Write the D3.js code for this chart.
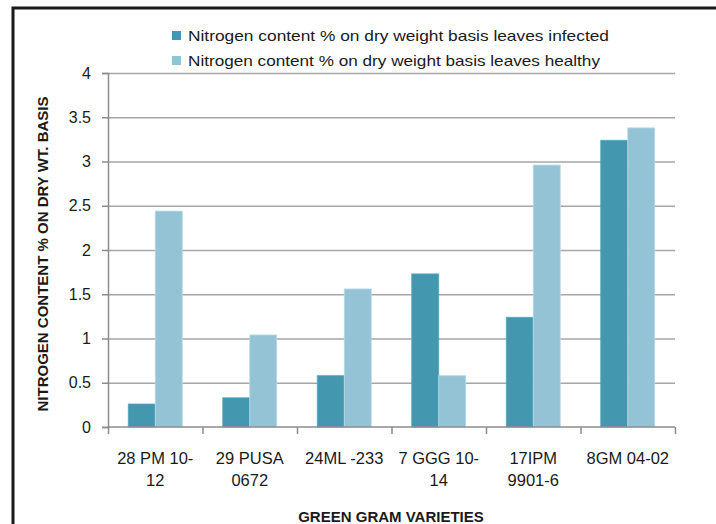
<!DOCTYPE html>
<html>
<head>
<meta charset="utf-8">
<script src="https://cdn.jsdelivr.net/npm/d3@7"></script>
<style>
  body { margin: 0; background: #fff; }
  text { font-family: "Liberation Sans", Arial, sans-serif; fill: #1a1a1a; }
</style>
</head>
<body>
<script>
// green gram varieties and nitrogen content
var categories = ["28 PM 10-12", "29 PUSA 0672", "24ML -233", "7 GGG 10-14", "17IPM 9901-6", "8GM 04-02"];
var tickLines = [["28 PM 10-", "12"], ["29 PUSA", "0672"], ["24ML -233"], ["7 GGG 10-", "14"], ["17IPM", "9901-6"], ["8GM 04-02"]];
var infected = [0.26, 0.33, 0.58, 1.73, 1.24, 3.24];
var healthy = [2.44, 1.04, 1.56, 0.58, 2.96, 3.38];
var seriesNames = [
  "Nitrogen content % on dry weight basis leaves infected",
  "Nitrogen content % on dry weight basis leaves healthy"
];
var yTicks = [0, 0.5, 1, 1.5, 2, 2.5, 3, 3.5, 4];

var w = 716;
var h = 524;
var colors = ["#4398b0", "#94c3d5"];

var svg = d3.select("body").append("svg")
  .attr("width", w)
  .attr("height", h);

// outer frame (only left and top are visible)
svg.append("rect")
  .attr("x", 13).attr("y", 8)
  .attr("width", 740).attr("height", 560)
  .attr("fill", "none")
  .attr("stroke", "#1a1a1a")
  .attr("stroke-width", 3);

var x0 = d3.scaleBand().domain(d3.range(categories.length)).range([108, 675]);
var x1 = d3.scaleBand().domain([0, 1]).range([0, x0.bandwidth()]).paddingOuter(0.75).paddingInner(0);
var y = d3.scaleLinear().domain([0, 4]).range([427, 73]);

// gridlines
svg.append("g").selectAll("line")
  .data(yTicks.slice(1))
  .enter().append("line")
  .attr("x1", 108).attr("x2", 675)
  .attr("y1", function(d) { return y(d) + 0.5; })
  .attr("y2", function(d) { return y(d) + 0.5; })
  .attr("stroke", "#a6a6a6")
  .attr("stroke-width", 1.5);

// bars
var data = categories.map(function(c, i) { return [infected[i], healthy[i]]; });
var groups = svg.append("g").selectAll("g")
  .data(data)
  .enter().append("g")
  .attr("transform", function(d, i) { return "translate(" + x0(i) + ",0)"; });

groups.selectAll("rect")
  .data(function(d) { return d; })
  .enter().append("rect")
  .attr("x", function(d, j) { return x1(j); })
  .attr("y", function(d) { return y(d); })
  .attr("width", x1.bandwidth())
  .attr("height", function(d) { return y(0) - y(d); })
  .attr("fill", function(d, j) { return colors[j]; })
  .attr("stroke", function(d, j) { return j ? "#b9dbe8" : "#5aa6bc"; })
  .attr("stroke-width", 0.8);

// y axis
var yAxis = d3.axisLeft(y).tickValues(yTicks).tickSize(6).tickPadding(11)
  .tickFormat(function(d) { return String(d); });
var gy = svg.append("g").attr("transform", "translate(108,0)").call(yAxis);
gy.select(".domain").attr("stroke", "#8c8c8c").attr("stroke-width", 1.5);
gy.selectAll(".tick line").attr("stroke", "#8c8c8c").attr("stroke-width", 1.5);
gy.selectAll(".tick text").style("font-family", "'Liberation Sans', Arial, sans-serif")
  .style("font-size", "16px").attr("fill", "#1a1a1a");

// x axis
var xb = d3.scaleLinear().domain([0, categories.length]).range([108, 675]);
var xAxis = d3.axisBottom(xb).ticks(categories.length).tickSize(7).tickFormat("");
var gx = svg.append("g").attr("transform", "translate(0,427)").call(xAxis);
gx.select(".domain").attr("stroke", "#8c8c8c").attr("stroke-width", 1.5)
  .attr("d", "M108,0H675");
gx.selectAll(".tick line").attr("stroke", "#8c8c8c").attr("stroke-width", 1.5);

// x tick labels
var lbl = svg.append("g").selectAll("text")
  .data(tickLines)
  .enter().append("text")
  .attr("x", function(d, i) { return x0(i) + x0.bandwidth() / 2; })
  .attr("y", 464)
  .attr("text-anchor", "middle")
  .style("font-size", "16.5px");
lbl.selectAll("tspan")
  .data(function(d) { return d; })
  .enter().append("tspan")
  .attr("x", function() { return d3.select(this.parentNode).attr("x"); })
  .attr("dy", function(d, k) { return k ? 22 : 0; })
  .text(function(d) { return d; });

// axis titles
svg.append("text")
  .attr("x", 391).attr("y", 522)
  .attr("text-anchor", "middle")
  .style("font-size", "15px").style("font-weight", "bold")
  .text("GREEN GRAM VARIETIES");

svg.append("text")
  .attr("transform", "translate(48,254) rotate(-90)")
  .attr("text-anchor", "middle")
  .style("font-size", "15px").style("font-weight", "bold")
  .text("NITROGEN CONTENT % ON DRY WT. BASIS");

// legend
var leg = svg.append("g").selectAll("g")
  .data(seriesNames)
  .enter().append("g")
  .attr("transform", function(d, i) { return "translate(172," + (31 + i * 25) + ")"; });
leg.append("rect")
  .attr("width", 9).attr("height", 9)
  .attr("fill", function(d, i) { return colors[i]; });
leg.append("text")
  .attr("x", 16).attr("y", 10)
  .style("font-size", "15px")
  .attr("textLength", function(d, i) { return i ? 412 : 421; })
  .attr("lengthAdjust", "spacingAndGlyphs")
  .text(function(d) { return d; });
</script>
</body>
</html>
